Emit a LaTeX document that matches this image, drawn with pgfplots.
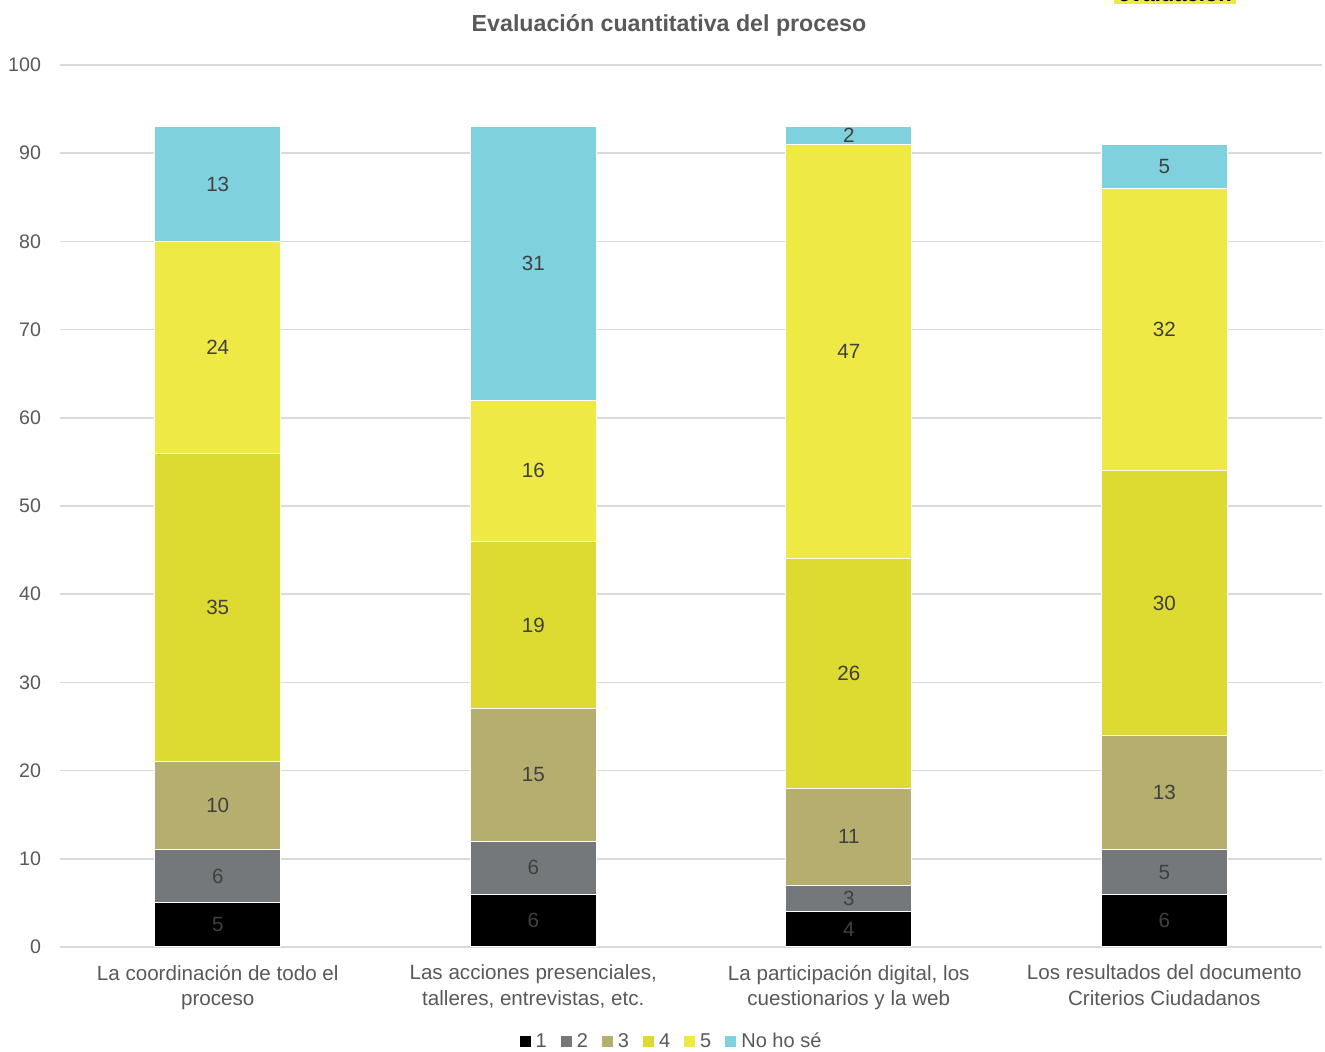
\documentclass[border=0pt]{standalone}
\usepackage{pgfplots}
\pgfplotsset{compat=1.18}
\usepackage{pgfplotstable}
\usepackage{fontspec}
\setmainfont{Liberation Sans}

\definecolor{c1}{HTML}{000000}
\definecolor{c2}{HTML}{75787B}
\definecolor{c3}{HTML}{B5AE6E}
\definecolor{c4}{HTML}{DDDA32}
\definecolor{c5}{HTML}{EFE946}
\definecolor{c6}{HTML}{7FD1DE}
\definecolor{txt}{HTML}{595959}
\definecolor{lbl}{HTML}{404040}
\definecolor{gridc}{HTML}{D9D9D9}

% valores por pregunta (0..3) y respuesta
\pgfplotstableread{
x r1 r2 r3 r4 r5 nhs
0 5 6 10 35 24 13
1 6 6 15 19 16 31
2 4 3 11 26 47 2
3 6 5 13 30 32 5
}\datos

\begin{document}
\begin{tikzpicture}
\begin{axis}[
  ybar stacked,
  scale only axis,
  width=631pt, height=441pt,
  xmin=-0.5, xmax=3.5, ymin=0, ymax=100,
  bar width=63pt,
  axis line style={draw=none},
  major tick length=0pt,
  ytick={0,10,...,100},
  ymajorgrids,
  grid style={gridc, line width=0.8pt},
  /pgf/number format/assume math mode=true,
  xtick=data,
  xticklabels={{La coordinación de todo el\\proceso},
               {Las acciones presenciales,\\talleres, entrevistas, etc.},
               {La participación digital, los\\cuestionarios y la web},
               {Los resultados del documento\\Criterios Ciudadanos}},
  xticklabel style={align=center, font=\fontsize{10.3}{12.6}\selectfont, text=txt, yshift=-5.5pt},
  yticklabel style={font=\fontsize{9.8}{11}\selectfont, text=txt, xshift=-6pt},
  point meta=rawy,
  nodes near coords,
  every node near coord/.append style={
    font=\fontsize{10.3}{11}\selectfont, text=lbl, anchor=center},
  legend style={at={(0.485,-0.1077)}, anchor=center, draw=none,
    legend columns=-1, font=\fontsize{10}{11}\selectfont, text=txt,
    /tikz/every even column/.append style={column sep=4.5pt}},
  legend image code/.code={\fill[#1] (0pt,-3pt) rectangle (6pt,3pt);},
]
\addplot[fill=c1, draw=white, line width=0.5pt] table[x=x,y=r1]{\datos};
\addplot[fill=c2, draw=white, line width=0.5pt] table[x=x,y=r2]{\datos};
\addplot[fill=c3, draw=white, line width=0.5pt] table[x=x,y=r3]{\datos};
\addplot[fill=c4, draw=white, line width=0.5pt] table[x=x,y=r4]{\datos};
\addplot[fill=c5, draw=white, line width=0.5pt] table[x=x,y=r5]{\datos};
\addplot[fill=c6, draw=white, line width=0.5pt] table[x=x,y=nhs]{\datos};
\legend{1,2,3,4,5,No ho sé}
\end{axis}
\node[font=\bfseries\fontsize{11.6}{13}\selectfont, text=txt] at (304.5pt,461pt) {Evaluación cuantitativa del proceso};
\node[anchor=south, fill=c5, inner xsep=2pt, inner ysep=1pt, font=\bfseries\fontsize{11}{13}\selectfont] at (557.5pt,471.5pt) {evaluación};
\pgfresetboundingbox
\useasboundingbox (-30pt,-52.5pt) rectangle (632.5pt,473.5pt);
\end{tikzpicture}
\end{document}
